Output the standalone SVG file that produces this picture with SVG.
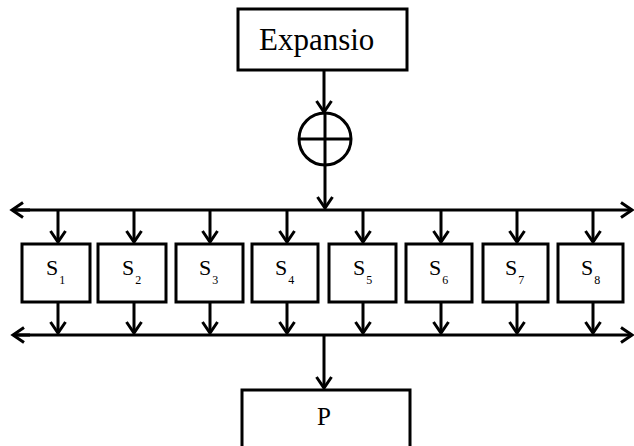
<svg xmlns="http://www.w3.org/2000/svg" width="634" height="446" viewBox="0 0 634 446">
  <style>
    .box { fill: #fff; stroke: #000; stroke-width: 3; }
    .wire { fill: none; stroke: #000; stroke-width: 3; }
    .lbl { font-family: "Liberation Serif", "Times New Roman", serif; fill: #000; }
    .s { font-size: 22px; }
    .sub { font-size: 12px; }
  </style>
  <defs>
    <marker id="arrow" markerUnits="userSpaceOnUse" markerWidth="22" markerHeight="22" viewBox="-13 -11 15 22" refX="0" refY="0" orient="auto">
      <path d="M -11,-7.5 L 0,0 L -11,7.5" fill="none" stroke="#000" stroke-width="3"/>
    </marker>
  </defs>

  <!-- Expansion block -->
  <g id="expansion">
    <rect class="box" x="238" y="9" width="169" height="61"/>
    <text class="lbl" x="259" y="50" font-size="31">Expansio</text>
  </g>

  <!-- XOR -->
  <g id="xor">
    <circle class="wire" cx="325" cy="139" r="26"/>
    <line class="wire" x1="325" y1="113" x2="325" y2="165"/>
    <line class="wire" x1="299" y1="139" x2="351" y2="139"/>
  </g>

  <!-- S-boxes -->
  <g id="s1"><rect class="box" x="22" y="244" width="68" height="58"/><text class="lbl s" x="46" y="275">S<tspan class="sub" dx="1" dy="9">1</tspan></text></g>
  <g id="s2"><rect class="box" x="98" y="244" width="68" height="58"/><text class="lbl s" x="122" y="275">S<tspan class="sub" dx="1" dy="9">2</tspan></text></g>
  <g id="s3"><rect class="box" x="176" y="244" width="67" height="58"/><text class="lbl s" x="199" y="275">S<tspan class="sub" dx="1" dy="9">3</tspan></text></g>
  <g id="s4"><rect class="box" x="252" y="244" width="66" height="58"/><text class="lbl s" x="275" y="275">S<tspan class="sub" dx="1" dy="9">4</tspan></text></g>
  <g id="s5"><rect class="box" x="329" y="244" width="67" height="58"/><text class="lbl s" x="353" y="275">S<tspan class="sub" dx="1" dy="9">5</tspan></text></g>
  <g id="s6"><rect class="box" x="406" y="244" width="66" height="58"/><text class="lbl s" x="429" y="275">S<tspan class="sub" dx="1" dy="9">6</tspan></text></g>
  <g id="s7"><rect class="box" x="483" y="244" width="65" height="58"/><text class="lbl s" x="505" y="275">S<tspan class="sub" dx="1" dy="9">7</tspan></text></g>
  <g id="s8"><rect class="box" x="558" y="244" width="65" height="58"/><text class="lbl s" x="581" y="275">S<tspan class="sub" dx="1" dy="9">8</tspan></text></g>

  <!-- Permutation block -->
  <g id="perm">
    <rect class="box" x="242" y="390" width="168" height="62"/>
    <text class="lbl" x="324" y="425" font-size="25" text-anchor="middle">P</text>
  </g>

  <!-- Connectors -->
  <g id="connectors">
    <line class="wire" x1="324" y1="70" x2="324" y2="112" marker-end="url(#arrow)"/>
    <line class="wire" x1="325" y1="165" x2="325" y2="208" marker-end="url(#arrow)"/>
    <!-- top bus, arrowheads at both ends -->
    <line class="wire" x1="12" y1="210" x2="632" y2="210" marker-end="url(#arrow)"/>
    <line class="wire" x1="30" y1="210" x2="12" y2="210" marker-end="url(#arrow)"/>
    <!-- feeds into S-boxes -->
    <line class="wire" x1="58" y1="210" x2="58" y2="242" marker-end="url(#arrow)"/>
    <line class="wire" x1="134" y1="210" x2="134" y2="242" marker-end="url(#arrow)"/>
    <line class="wire" x1="210" y1="210" x2="210" y2="242" marker-end="url(#arrow)"/>
    <line class="wire" x1="287" y1="210" x2="287" y2="242" marker-end="url(#arrow)"/>
    <line class="wire" x1="363" y1="210" x2="363" y2="242" marker-end="url(#arrow)"/>
    <line class="wire" x1="441" y1="210" x2="441" y2="242" marker-end="url(#arrow)"/>
    <line class="wire" x1="517" y1="210" x2="517" y2="242" marker-end="url(#arrow)"/>
    <line class="wire" x1="593" y1="210" x2="593" y2="242" marker-end="url(#arrow)"/>
    <!-- S-box outputs -->
    <line class="wire" x1="58" y1="302" x2="58" y2="333" marker-end="url(#arrow)"/>
    <line class="wire" x1="134" y1="302" x2="134" y2="333" marker-end="url(#arrow)"/>
    <line class="wire" x1="210" y1="302" x2="210" y2="333" marker-end="url(#arrow)"/>
    <line class="wire" x1="287" y1="302" x2="287" y2="333" marker-end="url(#arrow)"/>
    <line class="wire" x1="363" y1="302" x2="363" y2="333" marker-end="url(#arrow)"/>
    <line class="wire" x1="441" y1="302" x2="441" y2="333" marker-end="url(#arrow)"/>
    <line class="wire" x1="517" y1="302" x2="517" y2="333" marker-end="url(#arrow)"/>
    <line class="wire" x1="593" y1="302" x2="593" y2="333" marker-end="url(#arrow)"/>
    <!-- bottom bus, arrowheads at both ends -->
    <line class="wire" x1="13" y1="335" x2="632" y2="335" marker-end="url(#arrow)"/>
    <line class="wire" x1="30" y1="335" x2="13" y2="335" marker-end="url(#arrow)"/>
    <line class="wire" x1="324" y1="335" x2="324" y2="388" marker-end="url(#arrow)"/>
  </g>
</svg>
